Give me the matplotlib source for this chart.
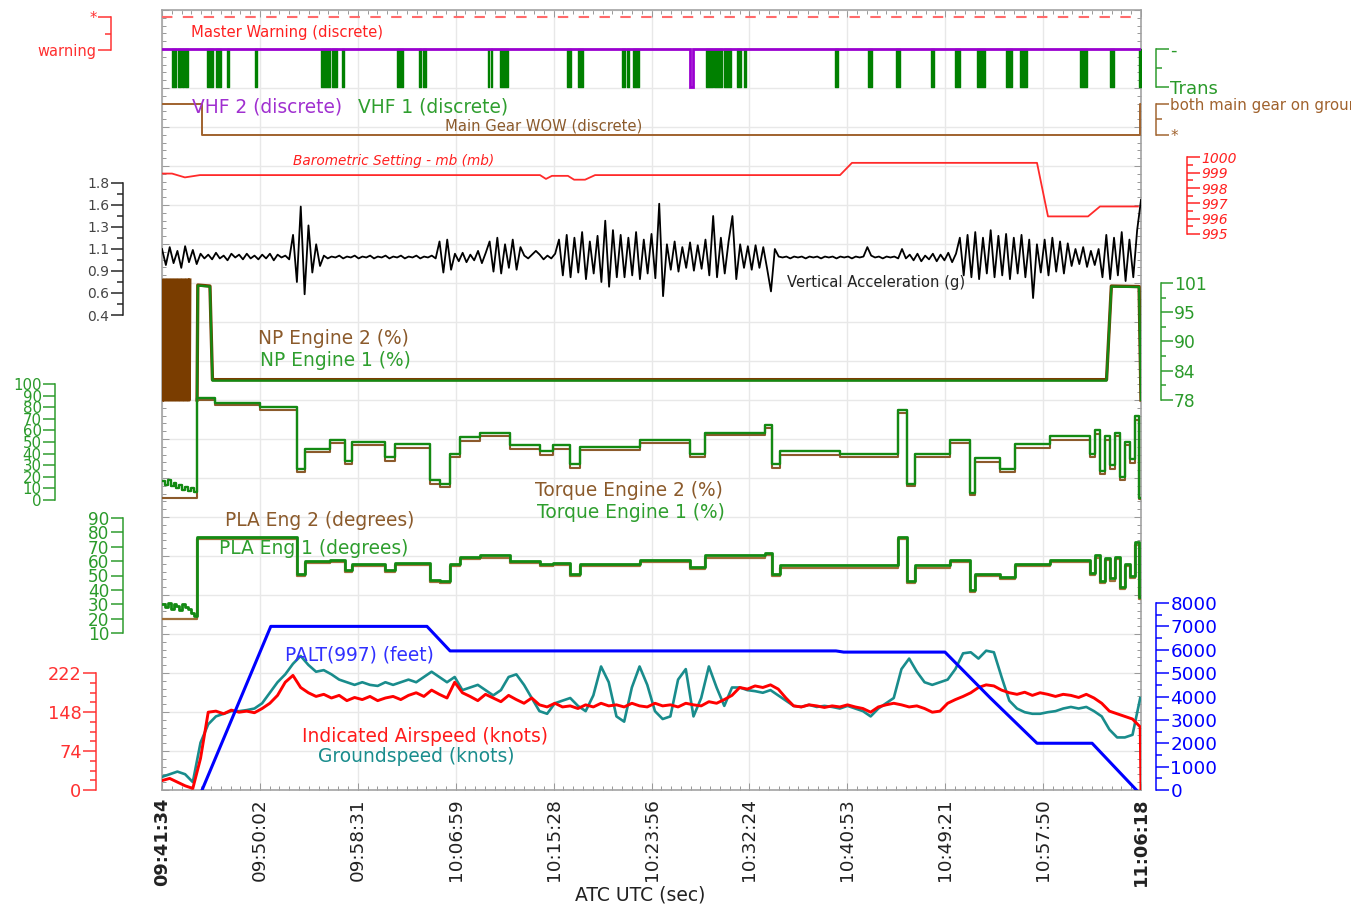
import numpy as np
import matplotlib
matplotlib.use("Agg")
import matplotlib.pyplot as plt

plt.rcParams['font.family'] = ['DejaVu Sans']

# ============================ DATA ============================
time_labels = ['09:41:34', '09:50:02', '09:58:31', '10:06:59', '10:15:28',
               '10:23:56', '10:32:24', '10:40:53', '10:49:21', '10:57:50', '11:06:18']

# Master Warning (discrete)
warning_states = ['warning', '*']
master_warning_t = [0, 5084]
master_warning = ['*', '*']

# VHF keying (discrete): elapsed-second intervals with 'Trans'
vhf_states = ['Trans', '-']
vhf1_trans = [(52, 73), (83, 99), (104, 114), (119, 135),
              (234, 265), (280, 306), (338, 348), (483, 493),
              (826, 872), (883, 909), (935, 945),
              (1220, 1252), (1335, 1345), (1355, 1371),
              (1693, 1697), (1710, 1714), (1755, 1797),
              (2103, 2124), (2160, 2186),
              (2389, 2404), (2415, 2425), (2446, 2477),
              (2825, 2862), (2867, 2908), (2918, 2955), (2986, 3007), (3022, 3033),
              (3495, 3510), (3666, 3687), (3812, 3832), (3993, 4009),
              (4118, 4144), (4232, 4274), (4383, 4414), (4456, 4492),
              (4767, 4803), (4923, 4944), (5074, 5084)]
vhf2_trans = [(2742, 2757)]

# Main Gear WOW (discrete)
wow_states = ['*', 'both main gear on ground']
wow_t = [0, 208, 5079, 5084]
wow = ['both main gear on ground', '*', 'both main gear on ground', 'both main gear on ground']

# Barometric setting (mb)
baro_t = [0, 52, 119, 197, 1963, 1994, 2025, 2108, 2140, 2197, 2249, 3521, 3583,
          4544, 4601, 4809, 4871, 5068]
baro = [998.95, 998.95, 998.7, 998.85, 998.85, 998.6, 998.8, 998.8, 998.55, 998.55,
        998.85, 998.85, 999.65, 999.65, 996.15, 996.15, 996.8, 996.8]

# Vertical acceleration (g), evenly sampled over the record
vacc = [1.10, 0.93, 1.12, 0.95, 1.08, 0.90, 1.13, 0.96, 1.09, 0.94,
        1.05, 1.00, 1.04, 0.99, 1.06, 1.00, 1.03, 0.98, 1.05, 1.01, 1.04, 0.99,
        1.05, 1.00, 1.03, 0.99, 1.04, 1.00, 1.05, 0.98, 1.04, 1.01, 1.03, 0.99,
        1.25, 0.75, 1.55, 0.62, 1.35,
        0.85, 1.15, 0.92,
        1.03, 1.00, 1.02, 1.01, 1.03, 1.00, 1.02, 1.01, 1.03, 1.00, 1.02, 1.01,
        1.03, 1.00, 1.02, 1.01, 1.03, 1.00, 1.02, 1.01, 1.03, 1.00, 1.02, 1.01,
        1.03, 1.00, 1.02, 1.01, 1.03, 1.00,
        1.18, 0.85, 1.20, 0.88,
        1.05, 0.97, 1.06, 0.96, 1.04, 0.98, 1.08, 0.95, 1.06,
        1.18, 0.86, 1.22, 0.84, 1.15, 0.90, 1.20, 0.88, 1.12,
        1.03, 1.00, 1.04, 1.08, 1.04, 0.99, 1.03, 1.00, 1.05,
        1.20, 0.82, 1.25, 0.80, 1.22, 0.85, 1.28, 0.78, 1.18, 0.84, 1.24,
        0.75, 1.40, 0.70, 1.30, 0.80,
        1.25, 0.80, 1.22, 0.82, 1.28, 0.78, 1.20, 0.84, 1.26, 0.79,
        1.58, 0.60,
        1.15, 0.88, 1.18, 0.86, 1.12, 0.90, 1.17, 0.87, 1.14, 0.89,
        1.20, 0.82, 1.45, 0.80, 1.22, 0.84, 1.18, 1.45, 0.78, 1.15,
        0.90, 1.13, 0.88, 1.14, 0.90, 1.12, 0.89, 0.65, 1.10,
        1.02, 1.01, 1.02, 1.00, 1.02, 1.01, 1.02, 1.00, 1.02, 1.01, 1.02, 1.00,
        1.02, 1.01, 1.02, 1.00,
        1.02, 1.01, 1.02, 1.00, 1.02, 1.01, 1.02, 1.12, 1.03, 1.01, 1.02, 1.00,
        1.02, 1.01, 1.02, 1.00,
        1.10, 1.00,
        1.04, 0.98, 1.05, 0.97, 1.03, 0.99, 1.05, 0.97, 1.04, 0.98, 1.06, 0.96, 1.05,
        1.22, 0.82, 1.25, 0.80, 1.28, 0.78, 1.22, 0.84, 1.30, 0.80, 1.24, 0.82,
        1.26, 0.78, 1.22, 0.84, 1.25, 0.80, 1.20, 0.58, 1.15,
        0.85, 1.20, 0.82, 1.22, 0.86, 1.18, 0.84, 1.16,
        0.92, 1.10, 0.94, 1.12, 0.91, 1.08, 0.93, 1.10,
        0.80, 1.25, 0.78, 1.22, 0.82, 1.28, 0.76, 1.20, 0.80, 1.30, 1.62]

# NP (%) - engine 2 hunting during start, then both engines
np2_start_t = [2, 5, 9, 12, 15, 19, 22, 25, 29, 32, 35, 39, 42, 45, 49, 52, 55, 59,
               62, 65, 69, 72, 75, 79, 82, 85, 89, 92, 95, 99, 102, 105, 109, 112,
               115, 119, 122, 125, 129, 132, 135, 139, 142, 145]
np2_start = [78.0, 101.6, 78.0, 101.6, 78.0, 101.6, 78.0, 101.6, 78.0, 101.6, 78.0,
             101.6, 78.0, 101.6, 78.0, 101.6, 78.0, 101.6, 78.0, 101.6, 78.0, 101.6,
             78.0, 101.6, 78.0, 101.6, 78.0, 101.6, 78.0, 101.6, 78.0, 101.6, 78.0,
             101.6, 78.0, 101.6, 78.0, 101.6, 78.0, 101.6, 78.0, 101.6, 78.0, 101.6]
np_t = [182, 186, 249, 262, 4905, 4930, 5074, 5084]
np1 = [78.0, 100.5, 100.3, 81.8, 81.8, 100.3, 100.2, 78.0]
np2 = [78.0, 100.6, 100.4, 82.0, 82.0, 100.4, 100.3, 78.0]

# Torque (%) and PLA (degrees): ground-idle part then stepped flight part
start_t = [0, 15, 30, 45, 60, 75, 90, 105, 120, 135, 150, 165]
torque1_start = [16, 13, 17, 12, 15, 10, 13, 9, 11, 8, 10, 7]
torque2_start = [1.5, 1.5, 1.5, 1.5, 1.5, 1.5, 1.5, 1.5, 1.5, 1.5, 1.5, 1.5]
pla1_start = [30, 28, 31, 27, 30, 29, 26, 30, 28, 27, 24, 22]
pla2_start = [19.7, 19.7, 19.7, 19.7, 19.7, 19.7, 19.7, 19.7, 19.7, 19.7, 19.7, 19.7]

step_t = [182, 275, 509, 701, 743, 872, 950, 987, 1158, 1210, 1392, 1444, 1496, 1548,
          1651, 1807, 1963, 2030, 2119, 2171, 2482, 2742, 2820, 3131, 3168, 3209, 3521,
          3822, 3869, 3910, 4092, 4196, 4222, 4352, 4430, 4612, 4819, 4845, 4871, 4897,
          4923, 4949, 4975, 5001, 5027, 5053, 5074, 5084]
torque1 = [88, 84, 80, 27, 44, 52, 34, 50, 37, 48, 17, 14, 40, 54, 58, 47, 42, 47, 31, 46,
           52, 40, 58, 65, 31, 42, 40, 78, 14, 40, 52, 6, 36, 27, 48, 55, 40, 60, 25, 55,
           30, 58, 20, 50, 35, 72, 2, 2]
torque2 = [86, 82, 78, 24, 41, 49, 31, 47, 34, 45, 14, 11, 37, 51, 55, 44, 39, 44, 28, 43,
           49, 37, 56, 62, 28, 39, 37, 75, 12, 37, 49, 4, 33, 24, 45, 52, 37, 57, 22, 52,
           27, 55, 17, 47, 32, 69, 1, 1]
pla1 = [77, 77, 77, 51, 60, 61, 54, 58, 54, 59, 47, 46, 58, 63, 64, 60, 58, 59, 51, 58,
        61, 56, 64, 66, 51, 57, 57, 77, 46, 57, 61, 40, 51, 49, 58, 61, 52, 64, 46, 62,
        48, 63, 42, 58, 50, 73, 35, 35]
pla2 = [75.5, 75.5, 75.5, 49.5, 58.5, 59.5, 52.5, 56.5, 52.5, 57.5, 45.5, 44.5, 56.5,
        61.5, 62.5, 58.5, 56.5, 57.5, 49.5, 56.5, 59.5, 54.5, 62.5, 64.5, 49.5, 55.5,
        55.5, 75.5, 44.5, 55.5, 59.5, 38.5, 49.5, 47.5, 56.5, 59.5, 50.5, 62.5, 44.5,
        60.5, 46.5, 61.5, 40.5, 56.5, 48.5, 71.5, 33.5, 33.5]

# Pressure altitude (feet)
palt_t = [208, 565, 1376, 1496, 3500, 3540, 4066, 4300, 4544, 4830, 5060]
palt = [0, 7000, 7000, 5950, 5950, 5900, 5900, 3950, 2000, 2000, 0]

# Indicated airspeed / groundspeed (knots), sampled every 40 s, plus final sample
speed_step = 40
ias = [18, 22, 15, 8, 3, 60, 148, 150, 145, 152,
       148, 150, 147, 155, 165, 180, 205, 218, 195, 185,
       178, 182, 175, 180, 170, 176, 172, 178, 170, 175,
       178, 172, 180, 185, 178, 190, 182, 175, 205, 185,
       178, 170, 182, 175, 168, 180, 172, 165, 175, 162,
       158, 165, 158, 160, 155, 162, 158, 165, 160, 162,
       158, 165, 160, 158, 165, 160, 162, 158, 165, 162,
       160, 168, 165, 172, 180, 195, 192, 198, 195, 200,
       192, 175, 160, 158, 162, 160, 157, 160, 158, 162,
       158, 155, 148, 158, 162, 165, 162, 158, 160, 155,
       148, 150, 165, 172, 178, 185, 195, 200, 198, 190,
       185, 182, 186, 180, 185, 182, 178, 182, 180, 176,
       182, 175, 165, 150, 145, 140, 135, 120, 0]
gs = [25, 30, 35, 30, 15, 90, 125, 140, 145, 150,
      150, 152, 155, 165, 185, 205, 220, 240, 255, 238,
      225, 228, 220, 210, 205, 200, 205, 200, 198, 205,
      200, 205, 210, 205, 215, 225, 215, 205, 215, 190,
      195, 200, 190, 180, 190, 215, 220, 200, 175, 150,
      145, 165, 170, 175, 160, 150, 180, 235, 205, 140,
      130, 195, 235, 200, 150, 135, 140, 210, 230, 140,
      175, 235, 195, 160, 195, 195, 190, 188, 185, 190,
      180, 170, 160, 158, 162, 158, 160, 158, 155, 160,
      155, 150, 140, 155, 165, 175, 230, 250, 225, 205,
      200, 205, 210, 230, 260, 262, 250, 265, 262, 215,
      170, 155, 148, 145, 145, 148, 150, 155, 158, 155,
      158, 150, 140, 115, 100, 100, 105, 175]

# ============================ LAYOUT ============================
W, H, DPI = 1351, 906, 100
PT = 72 / DPI
L, R, TOP, BOT = 162, 1141, 10, 790


def hms(s):
    h, m, sec = map(int, s.split(':'))
    return h * 3600 + m * 60 + sec


x_ticks = [hms(s) - hms(time_labels[0]) for s in time_labels]
t_end = x_ticks[-1]

fig = plt.figure(figsize=(W / DPI, H / DPI), dpi=DPI)
rect = [L / W, 1 - BOT / H, (R - L) / W, (BOT - TOP) / H]

# ---- base frame with grid ----
base = fig.add_axes(rect)
base.set_xlim(0, t_end)
base.set_ylim(BOT, TOP)
base.set_yticks(np.arange(TOP, BOT + 1, 39))
base.set_yticks(np.arange(TOP, BOT + 1, 7.8), minor=True)
base.set_yticklabels([])
base.set_xticks(x_ticks, time_labels, rotation=90)
base.set_xticks(np.linspace(0, t_end, 101), minor=True)
base.grid(True, which='major', color='#e8e8e8', lw=1.0)
base.set_axisbelow(True)
base.tick_params(axis='both', which='both', direction='in', top=True, right=True,
                 color='#9a9a9a', width=1.0 * PT)
base.tick_params(axis='both', which='major', length=7 * PT)
base.tick_params(axis='both', which='minor', length=4 * PT)
base.tick_params(axis='x', which='major', labelsize=13.3, labelcolor='#222222', pad=8 * PT)
for lab in base.get_xticklabels():
    if lab.get_text() in (time_labels[0], time_labels[-1]):
        lab.set_fontweight('bold')
        lab.set_fontsize(12.8)
for s in base.spines.values():
    s.set_color('#a0a0a0')
    s.set_linewidth(1.6 * PT)


def band_axes(side, spine_x, v1, y1, v2, y2, color, major, labels, minor=(),
              fs=12, lab_color=None, major_len=13, minor_len=6):
    ax = fig.add_axes(rect)
    ax.set_xlim(0, t_end)
    k = (v1 - v2) / (y2 - y1)
    ax.set_ylim(v2 - k * (BOT - y2), v1 + k * (y1 - TOP))
    ax.patch.set_visible(False)
    for s in ax.spines.values():
        s.set_visible(False)
    ax.set_xticks([])
    sp = ax.spines[side]
    sp.set_visible(True)
    dist = (L - spine_x) if side == 'left' else (spine_x - R)
    sp.set_position(('outward', dist * PT))
    sp.set_bounds(min(v1, v2), max(v1, v2))
    sp.set_color(color)
    sp.set_linewidth(1.5 * PT)
    if side == 'right':
        ax.yaxis.tick_right()
    else:
        ax.yaxis.tick_left()
    ax.set_yticks(major, labels)
    ax.set_yticks(list(minor), minor=True)
    ax.tick_params(axis='y', which='major', length=major_len * PT, width=1.5 * PT,
                   color=color, labelcolor=lab_color or color, labelsize=fs, pad=1)
    ax.tick_params(axis='y', which='minor', length=minor_len * PT, width=1.5 * PT, color=color)
    return ax


def label(x, y, s, color, fs, **kw):
    fig.text(x / W, 1 - y / H, s, color=color, fontsize=fs, ha='left', va='center', **kw)


RED = '#ff1a1a'
GREEN_AX = '#2a9a2a'
GREEN = '#138a13'
BROWN = '#8b5a2b'
DBROWN = '#7a3d00'
PURPLE = '#9a00d0'
BLUE = '#0000ff'
TEAL = '#198c8c'
BIG = 13.4
SMALL = 10.6

# ---- Master warning ----
wlev = {s: i for i, s in enumerate(warning_states)}
ax_w = band_axes('left', 111, 1, 17, 0, 50, '#ff3030', [1, 0], ['*', 'warning'],
                 minor=[0.5], fs=10.5, lab_color='#ff3030')
ax_w.plot(master_warning_t, [wlev[v] for v in master_warning], color='#ff6a6a',
          lw=1.5, dashes=(5, 5))
label(191, 33, 'Master Warning (discrete)', '#ff2020', SMALL)

# ---- VHF ----
vlev = {s: i for i, s in enumerate(vhf_states)}
ax_v = band_axes('right', 1156, 1, 49, 0, 87, GREEN_AX, [1, 0], ['-', 'Trans'],
                 minor=[0.5], fs=13)
for s, e in vhf1_trans:
    ax_v.fill_between([s, e], vlev['Trans'], vlev['-'], color='#008000', lw=1.0,
                      edgecolor='#008000')
v2t, v2v = [0], [vlev['-']]
for s, e in vhf2_trans:
    v2t += [s, s, e, e]
    v2v += [vlev['-'], vlev['Trans'], vlev['Trans'], vlev['-']]
v2t.append(t_end)
v2v.append(vlev['-'])
ax_v.plot(v2t, v2v, color=PURPLE, lw=2.0, solid_joinstyle='miter')
label(192, 107, 'VHF 2 (discrete)', '#a030d0', BIG)
label(358, 107, 'VHF 1 (discrete)', '#2e9e2e', BIG)

# ---- WOW ----
glev = {s: i for i, s in enumerate(wow_states)}
ax_g = band_axes('right', 1156, 1, 104, 0, 135, '#a0622d',
                 [1, 0], ['both main gear on ground', '*'], minor=[0.5], fs=10.8)
ax_g.step(wow_t, [glev[v] for v in wow], where='post', color='#a0622d', lw=1.4)
label(445, 126, 'Main Gear WOW (discrete)', BROWN, SMALL)

# ---- Baro ----
ax_b = band_axes('right', 1187, 1000, 157.5, 995, 234, '#ff2020',
                 [1000, 999, 998, 997, 996, 995], ['1000', '999', '998', '997', '996', '995'],
                 minor=[999.5, 998.5, 997.5, 996.5, 995.5], fs=10)
for lab in ax_b.get_yticklabels():
    lab.set_fontstyle('italic')
ax_b.plot(baro_t, baro, color='#ff2a2a', lw=1.3)
label(293, 161, 'Barometric Setting - mb (mb)', '#ff2020', 9.8, style='italic')

# ---- Vertical acceleration ----
va_major = np.linspace(1.8, 0.4, 7)
ax_a = band_axes('left', 122.7, 1.8, 183, 0.4, 315, '#222222', va_major,
                 [f'{v:.1f}' for v in va_major],
                 minor=(va_major[:-1] + va_major[1:]) / 2, fs=10, lab_color='#444444',
                 major_len=12)
ax_a.plot(np.linspace(0, t_end, len(vacc)), vacc, color='black', lw=1.3)
label(787, 282, 'Vertical Acceleration (g)', '#222222', SMALL)

# ---- NP ----
np_major = np.linspace(101, 78, 5)
ax_n = band_axes('right', 1160.7, 101, 283, 78, 400, GREEN_AX, np_major,
                 [f'{v:.0f}' for v in np_major],
                 minor=(np_major[:-1] + np_major[1:]) / 2, fs=12.3, major_len=12,
                 minor_len=5)
ax_n.plot(np2_start_t, np2_start, color=DBROWN, lw=2.2)
ax_n.plot(np_t, np2, color=DBROWN, lw=2.4)
ax_n.plot(np_t, np1, color=GREEN, lw=1.6)
label(258, 339, 'NP Engine 2 (%)', BROWN, BIG)
label(260, 360, 'NP Engine 1 (%)', '#2e9e2e', BIG)

# ---- Torque ----
ax_t = band_axes('left', 55, 100, 384, 0, 500, GREEN_AX, list(range(0, 101, 10)),
                 [str(v) for v in range(0, 101, 10)], fs=10.8, major_len=12)
ax_t.step(start_t + step_t, torque2_start + torque2, where='post', color=BROWN, lw=1.5)
ax_t.step(start_t + step_t, torque1_start + torque1, where='post', color=GREEN, lw=1.7)
label(535, 490, 'Torque Engine 2 (%)', BROWN, BIG)
label(537, 512, 'Torque Engine 1 (%)', '#2e9e2e', BIG)

# ---- PLA ----
ax_p = band_axes('left', 123, 90, 518, 10, 633, GREEN_AX, list(range(10, 91, 10)),
                 [str(v) for v in range(10, 91, 10)], fs=12.2, major_len=12)
ax_p.step(start_t + step_t, pla2_start + pla2, where='post', color='#a0703a', lw=1.6)
ax_p.step(start_t + step_t, pla1_start + pla1, where='post', color=GREEN, lw=2.0)
label(225, 521, 'PLA Eng 2 (degrees)', BROWN, BIG)
label(219, 548, 'PLA Eng 1 (degrees)', '#2e9e2e', BIG)

# ---- IAS / GS ----
ax_s = band_axes('left', 96, 222, 673.3, 0, 790, '#ff3030', [0, 74, 148, 222],
                 ['0', '74', '148', '222'],
                 minor=[18.5, 37, 55.5, 92.5, 111, 129.5, 166.5, 185, 203.5],
                 fs=12.8, major_len=13)
gs_t = np.arange(len(gs)) * speed_step
ias_t = list(np.arange(len(ias) - 1) * speed_step) + [t_end]
ax_s.plot(gs_t, gs, color=TEAL, lw=1.9)
ax_s.plot(ias_t, ias, color='#ff0000', lw=2.1)
label(302, 736, 'Indicated Airspeed (knots)', '#ff1a1a', BIG)
label(318, 756, 'Groundspeed (knots)', TEAL, BIG)

# ---- PALT ----
ax_h = band_axes('right', 1156, 8000, 603, 0, 790, BLUE, list(range(0, 8001, 1000)),
                 [str(v) for v in range(0, 8001, 1000)],
                 minor=list(range(500, 8000, 1000)), fs=13.2, major_len=13)
ax_h.plot(palt_t, palt, color=BLUE, lw=2.2)
label(285, 655, 'PALT(997) (feet)', '#3030ff', BIG)

fig.text(640 / W, 1 - 895 / H, 'ATC UTC (sec)', ha='center', va='center',
         fontsize=13.5, color='#222222')

fig.savefig('out.png', dpi=DPI)
